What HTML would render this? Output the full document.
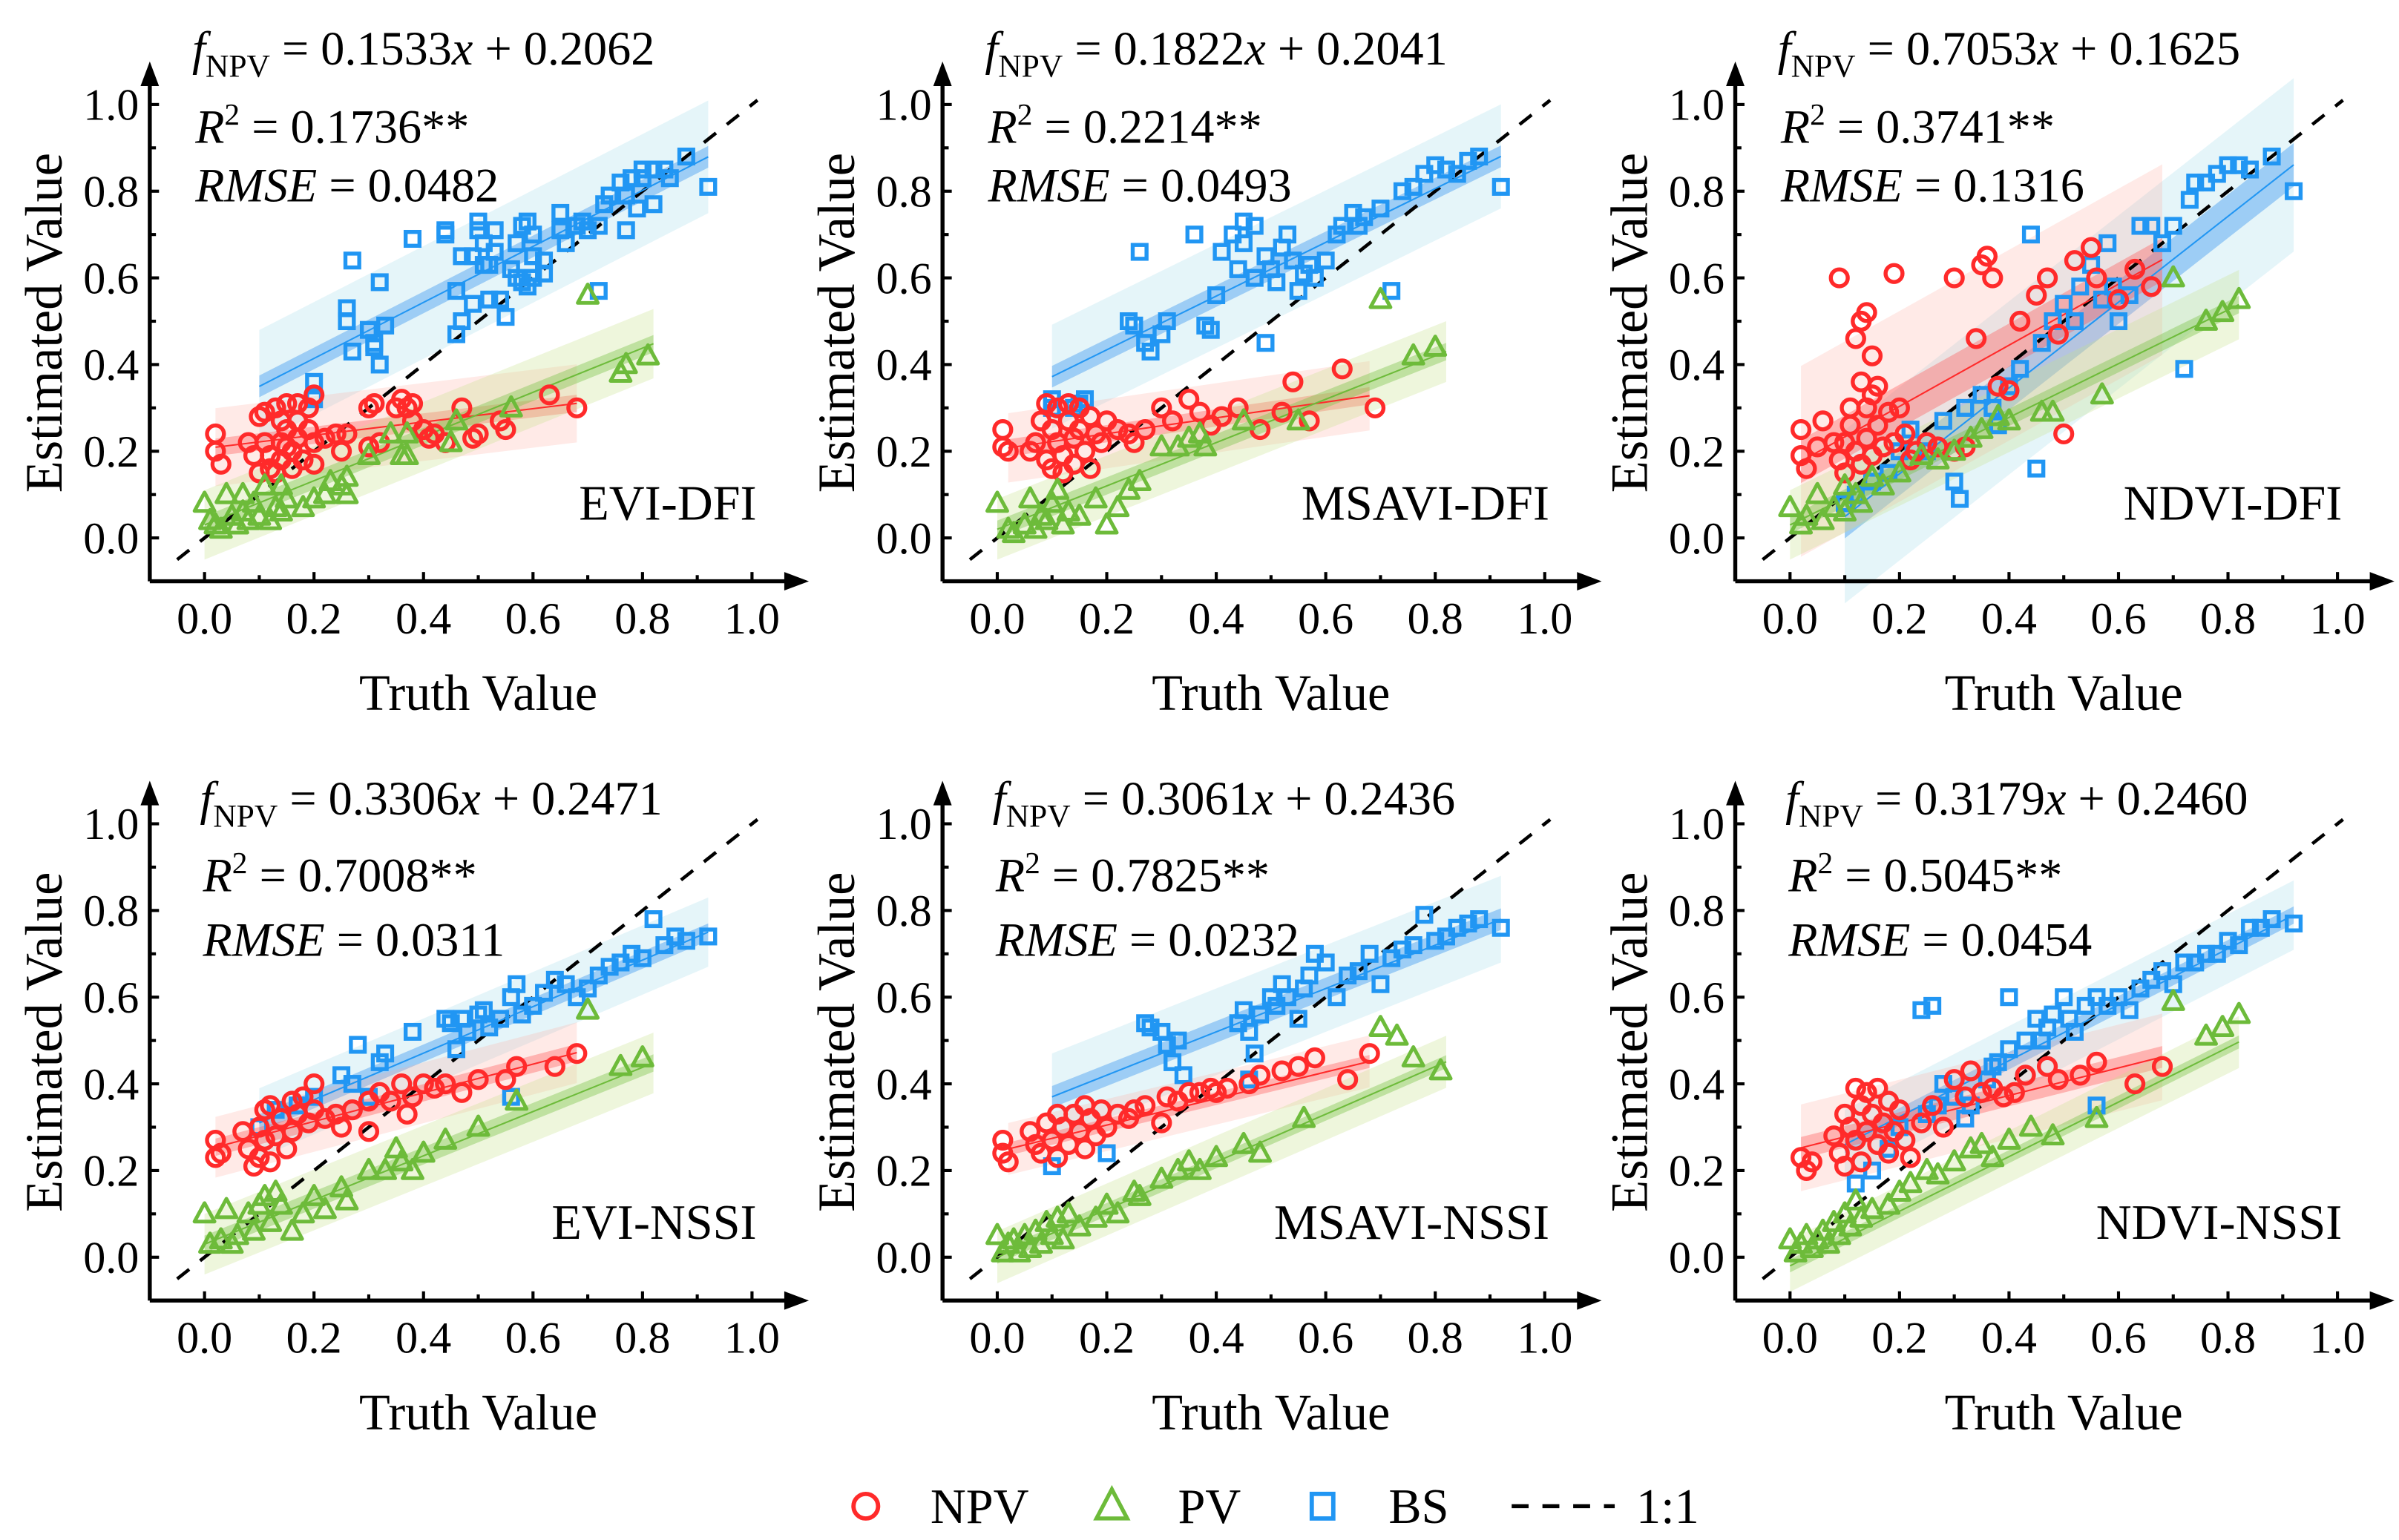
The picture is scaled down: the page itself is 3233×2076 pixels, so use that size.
<!DOCTYPE html>
<html><head><meta charset="utf-8">
<style>
html,body{margin:0;padding:0;background:#fff;overflow:hidden;}
svg{display:block;font-family:"Liberation Serif",serif;}
</style></head>
<body>
<svg id="fig" width="3233" height="2076" viewBox="0 0 1560 1002" preserveAspectRatio="none" xmlns="http://www.w3.org/2000/svg"></svg>
<script>
// ===== Data (value space) =====
const panelNames = ["EVI-DFI","MSAVI-DFI","NDVI-DFI","EVI-NSSI","MSAVI-NSSI","NDVI-NSSI"];
const eqTexts = ["0.1533","0.1822","0.7053","0.3306","0.3061","0.3179"];
const eqIntercepts = ["0.2062","0.2041","0.1625","0.2471","0.2436","0.2460"];
const r2Texts = ["0.1736","0.2214","0.3741","0.7008","0.7825","0.5045"];
const rmseTexts = ["0.0482","0.0493","0.1316","0.0311","0.0232","0.0454"];
const xTicks = [0.0,0.2,0.4,0.6,0.8,1.0];
const yTicks = [0.0,0.2,0.4,0.6,0.8,1.0];

// fits: [slope, intercept, xmin, xmax, ciHalf, piHalf]
const fitNPV = [[0.1533,0.2062,0.02,0.68,0.02,0.09],[0.1822,0.2041,0.02,0.68,0.02,0.08],[0.7053,0.1625,0.02,0.68,0.05,0.22],[0.3306,0.2471,0.02,0.68,0.02,0.07],[0.3061,0.2436,0.02,0.68,0.015,0.06],[0.3179,0.2460,0.02,0.68,0.025,0.1]];
const fitPV = [[0.51,0.03,0.0,0.82,0.02,0.08],[0.5,0.02,0.0,0.82,0.02,0.07],[0.62,0.03,0.0,0.82,0.02,0.08],[0.51,0.03,0.0,0.82,0.02,0.07],[0.55,0.0,0.0,0.82,0.015,0.06],[0.63,-0.02,0.0,0.82,0.015,0.06]];
const fitBS = [[0.646,0.285,0.1,0.92,0.025,0.13],[0.62,0.31,0.1,0.92,0.025,0.12],[0.99,-0.05,0.1,0.92,0.05,0.2],[0.537,0.256,0.1,0.92,0.02,0.08],[0.5,0.32,0.1,0.92,0.025,0.1],[0.646,0.195,0.1,0.92,0.02,0.08]];

const npv1=[[0.02,0.24],[0.02,0.2],[0.03,0.17],[0.08,0.22],[0.09,0.19],[0.1,0.28],[0.1,0.15],[0.11,0.29],[0.11,0.22],[0.12,0.19],[0.12,0.16],[0.13,0.3],[0.13,0.15],[0.14,0.27],[0.14,0.22],[0.14,0.18],[0.15,0.31],[0.15,0.25],[0.15,0.21],[0.16,0.2],[0.16,0.16],[0.17,0.31],[0.17,0.27],[0.17,0.23],[0.18,0.18],[0.19,0.25],[0.19,0.3],[0.2,0.33],[0.2,0.22],[0.2,0.17],[0.22,0.23],[0.24,0.24],[0.25,0.2],[0.26,0.24],[0.3,0.3],[0.3,0.21],[0.31,0.31],[0.32,0.22],[0.35,0.3],[0.36,0.32],[0.37,0.3],[0.38,0.27],[0.38,0.31],[0.4,0.25],[0.41,0.23],[0.42,0.24],[0.44,0.22],[0.47,0.3],[0.49,0.23],[0.5,0.24],[0.54,0.27],[0.55,0.25],[0.63,0.33],[0.68,0.3]];
const pv1=[[0.0,0.08],[0.01,0.04],[0.02,0.03],[0.03,0.02],[0.04,0.1],[0.05,0.05],[0.06,0.03],[0.07,0.06],[0.07,0.1],[0.08,0.04],[0.09,0.08],[0.1,0.05],[0.11,0.12],[0.12,0.04],[0.13,0.07],[0.14,0.12],[0.14,0.06],[0.15,0.09],[0.18,0.07],[0.2,0.09],[0.22,0.1],[0.23,0.13],[0.25,0.12],[0.26,0.1],[0.26,0.14],[0.3,0.19],[0.34,0.24],[0.36,0.19],[0.37,0.19],[0.37,0.24],[0.45,0.22],[0.46,0.27],[0.56,0.3],[0.7,0.56],[0.76,0.38],[0.77,0.4],[0.81,0.42]];
const bs1=[[0.2,0.36],[0.2,0.32],[0.26,0.5],[0.26,0.53],[0.27,0.43],[0.27,0.64],[0.3,0.48],[0.31,0.44],[0.31,0.45],[0.32,0.4],[0.32,0.59],[0.33,0.49],[0.38,0.69],[0.44,0.71],[0.44,0.7],[0.46,0.57],[0.46,0.47],[0.47,0.5],[0.47,0.65],[0.49,0.65],[0.49,0.54],[0.5,0.73],[0.5,0.71],[0.51,0.68],[0.51,0.63],[0.52,0.55],[0.52,0.63],[0.53,0.66],[0.53,0.71],[0.54,0.55],[0.55,0.51],[0.56,0.62],[0.57,0.68],[0.57,0.6],[0.58,0.59],[0.58,0.72],[0.59,0.73],[0.59,0.58],[0.6,0.65],[0.6,0.7],[0.6,0.6],[0.62,0.64],[0.62,0.61],[0.65,0.75],[0.65,0.71],[0.66,0.68],[0.68,0.72],[0.69,0.73],[0.7,0.71],[0.72,0.72],[0.72,0.57],[0.73,0.77],[0.74,0.79],[0.76,0.82],[0.77,0.79],[0.77,0.71],[0.78,0.83],[0.79,0.76],[0.8,0.85],[0.8,0.83],[0.82,0.77],[0.82,0.85],[0.84,0.85],[0.85,0.83],[0.88,0.88],[0.92,0.81]];

const npv2=[[0.01,0.25],[0.01,0.21],[0.02,0.2],[0.06,0.2],[0.07,0.22],[0.08,0.27],[0.09,0.31],[0.09,0.18],[0.1,0.25],[0.1,0.16],[0.11,0.3],[0.11,0.22],[0.12,0.19],[0.12,0.15],[0.13,0.31],[0.13,0.27],[0.14,0.23],[0.14,0.17],[0.15,0.3],[0.15,0.25],[0.16,0.2],[0.17,0.28],[0.17,0.16],[0.18,0.24],[0.19,0.22],[0.2,0.27],[0.22,0.25],[0.24,0.24],[0.25,0.22],[0.27,0.25],[0.3,0.3],[0.32,0.27],[0.35,0.32],[0.37,0.29],[0.39,0.26],[0.41,0.28],[0.44,0.3],[0.48,0.25],[0.52,0.29],[0.54,0.36],[0.57,0.27],[0.63,0.39],[0.69,0.3]];
const pv2=[[0.0,0.08],[0.02,0.02],[0.03,0.01],[0.05,0.03],[0.06,0.09],[0.07,0.02],[0.08,0.05],[0.09,0.04],[0.1,0.08],[0.11,0.11],[0.12,0.03],[0.13,0.06],[0.15,0.05],[0.18,0.09],[0.2,0.03],[0.22,0.07],[0.24,0.11],[0.26,0.13],[0.3,0.21],[0.33,0.21],[0.35,0.23],[0.37,0.24],[0.38,0.21],[0.45,0.27],[0.55,0.27],[0.7,0.55],[0.76,0.42],[0.8,0.44]];
const bs2=[[0.1,0.3],[0.1,0.32],[0.14,0.3],[0.15,0.31],[0.16,0.32],[0.24,0.5],[0.25,0.49],[0.26,0.66],[0.27,0.45],[0.28,0.43],[0.3,0.47],[0.31,0.5],[0.36,0.7],[0.38,0.49],[0.39,0.48],[0.4,0.56],[0.41,0.66],[0.43,0.7],[0.44,0.62],[0.45,0.73],[0.45,0.68],[0.47,0.6],[0.47,0.72],[0.49,0.45],[0.49,0.65],[0.5,0.62],[0.51,0.59],[0.52,0.67],[0.53,0.7],[0.54,0.64],[0.55,0.57],[0.56,0.61],[0.57,0.63],[0.58,0.6],[0.6,0.64],[0.62,0.7],[0.63,0.72],[0.65,0.75],[0.66,0.72],[0.67,0.74],[0.7,0.76],[0.72,0.57],[0.74,0.8],[0.76,0.81],[0.78,0.84],[0.8,0.86],[0.82,0.85],[0.84,0.84],[0.86,0.87],[0.88,0.88],[0.92,0.81]];

const npv3=[[0.02,0.25],[0.02,0.19],[0.03,0.16],[0.05,0.21],[0.06,0.27],[0.08,0.22],[0.09,0.6],[0.09,0.18],[0.1,0.22],[0.1,0.15],[0.11,0.3],[0.11,0.26],[0.12,0.46],[0.12,0.2],[0.13,0.5],[0.13,0.36],[0.13,0.17],[0.14,0.52],[0.14,0.3],[0.14,0.23],[0.15,0.42],[0.15,0.33],[0.15,0.19],[0.16,0.35],[0.16,0.26],[0.17,0.21],[0.18,0.29],[0.19,0.61],[0.19,0.22],[0.2,0.3],[0.21,0.24],[0.22,0.18],[0.23,0.2],[0.25,0.22],[0.27,0.21],[0.3,0.6],[0.3,0.2],[0.32,0.21],[0.34,0.46],[0.35,0.63],[0.36,0.65],[0.37,0.6],[0.38,0.35],[0.4,0.34],[0.42,0.5],[0.45,0.56],[0.47,0.6],[0.49,0.47],[0.5,0.24],[0.52,0.64],[0.55,0.67],[0.56,0.6],[0.6,0.55],[0.63,0.62],[0.66,0.58]];
const pv3=[[0.0,0.07],[0.02,0.03],[0.03,0.05],[0.05,0.1],[0.06,0.04],[0.08,0.07],[0.1,0.06],[0.1,0.12],[0.12,0.1],[0.13,0.08],[0.15,0.14],[0.17,0.12],[0.2,0.15],[0.24,0.19],[0.27,0.18],[0.3,0.2],[0.33,0.23],[0.35,0.25],[0.38,0.28],[0.4,0.27],[0.46,0.29],[0.48,0.29],[0.57,0.33],[0.7,0.6],[0.76,0.5],[0.79,0.52],[0.82,0.55]];
const bs3=[[0.1,0.08],[0.12,0.1],[0.15,0.13],[0.18,0.15],[0.2,0.2],[0.22,0.25],[0.25,0.2],[0.28,0.27],[0.3,0.13],[0.31,0.09],[0.32,0.3],[0.35,0.33],[0.37,0.3],[0.38,0.26],[0.4,0.35],[0.42,0.39],[0.44,0.7],[0.45,0.16],[0.46,0.45],[0.48,0.5],[0.5,0.54],[0.52,0.5],[0.53,0.58],[0.55,0.63],[0.57,0.55],[0.58,0.68],[0.59,0.58],[0.6,0.5],[0.62,0.56],[0.64,0.72],[0.66,0.72],[0.68,0.68],[0.7,0.72],[0.72,0.39],[0.73,0.78],[0.74,0.82],[0.76,0.82],[0.78,0.84],[0.8,0.86],[0.82,0.86],[0.84,0.85],[0.88,0.88],[0.92,0.8]];

const npv4=[[0.02,0.27],[0.02,0.23],[0.03,0.24],[0.07,0.29],[0.08,0.25],[0.09,0.21],[0.1,0.3],[0.1,0.23],[0.11,0.34],[0.11,0.27],[0.12,0.35],[0.12,0.22],[0.13,0.28],[0.14,0.32],[0.15,0.25],[0.16,0.36],[0.16,0.29],[0.17,0.33],[0.18,0.37],[0.19,0.31],[0.2,0.4],[0.2,0.34],[0.22,0.32],[0.24,0.33],[0.25,0.3],[0.27,0.34],[0.3,0.36],[0.3,0.29],[0.32,0.38],[0.34,0.36],[0.36,0.4],[0.37,0.33],[0.38,0.37],[0.4,0.4],[0.42,0.39],[0.44,0.4],[0.47,0.38],[0.5,0.41],[0.55,0.41],[0.57,0.44],[0.64,0.44],[0.68,0.47]];
const pv4=[[0.0,0.1],[0.01,0.03],[0.03,0.04],[0.04,0.11],[0.05,0.03],[0.06,0.05],[0.08,0.1],[0.09,0.06],[0.1,0.12],[0.11,0.14],[0.12,0.08],[0.13,0.15],[0.14,0.12],[0.16,0.06],[0.18,0.1],[0.2,0.14],[0.22,0.11],[0.25,0.16],[0.26,0.13],[0.3,0.2],[0.33,0.2],[0.35,0.25],[0.36,0.22],[0.38,0.2],[0.4,0.24],[0.44,0.27],[0.5,0.3],[0.57,0.36],[0.7,0.57],[0.76,0.44],[0.8,0.46]];
const bs4=[[0.1,0.3],[0.13,0.34],[0.17,0.35],[0.2,0.37],[0.25,0.42],[0.27,0.4],[0.28,0.49],[0.3,0.37],[0.32,0.45],[0.33,0.47],[0.38,0.52],[0.44,0.55],[0.45,0.54],[0.46,0.48],[0.47,0.55],[0.48,0.52],[0.5,0.56],[0.51,0.57],[0.52,0.53],[0.54,0.55],[0.56,0.6],[0.57,0.63],[0.58,0.56],[0.6,0.58],[0.62,0.61],[0.64,0.64],[0.66,0.63],[0.68,0.6],[0.7,0.62],[0.72,0.65],[0.74,0.67],[0.76,0.68],[0.78,0.7],[0.8,0.69],[0.82,0.78],[0.84,0.72],[0.86,0.74],[0.88,0.73],[0.92,0.74],[0.56,0.37]];

const npv5=[[0.01,0.27],[0.01,0.24],[0.02,0.22],[0.06,0.29],[0.07,0.26],[0.08,0.24],[0.09,0.31],[0.1,0.27],[0.11,0.33],[0.11,0.23],[0.12,0.3],[0.13,0.26],[0.14,0.33],[0.15,0.29],[0.16,0.35],[0.16,0.25],[0.17,0.32],[0.18,0.28],[0.19,0.34],[0.2,0.3],[0.22,0.33],[0.24,0.32],[0.25,0.34],[0.27,0.35],[0.3,0.31],[0.31,0.37],[0.33,0.36],[0.35,0.38],[0.37,0.38],[0.39,0.39],[0.4,0.38],[0.42,0.39],[0.46,0.4],[0.48,0.42],[0.52,0.43],[0.55,0.44],[0.58,0.46],[0.64,0.41],[0.68,0.47]];
const pv5=[[0.0,0.05],[0.01,0.01],[0.02,0.03],[0.03,0.04],[0.04,0.01],[0.05,0.05],[0.06,0.02],[0.07,0.06],[0.08,0.03],[0.09,0.08],[0.1,0.05],[0.11,0.09],[0.12,0.04],[0.13,0.1],[0.15,0.07],[0.18,0.09],[0.2,0.12],[0.22,0.1],[0.25,0.15],[0.26,0.14],[0.3,0.18],[0.33,0.2],[0.35,0.22],[0.37,0.2],[0.4,0.23],[0.45,0.26],[0.48,0.24],[0.56,0.32],[0.7,0.53],[0.73,0.51],[0.76,0.46],[0.81,0.43]];
const bs5=[[0.1,0.21],[0.2,0.24],[0.27,0.54],[0.28,0.53],[0.3,0.52],[0.31,0.49],[0.33,0.5],[0.32,0.45],[0.34,0.42],[0.44,0.54],[0.45,0.57],[0.46,0.52],[0.47,0.47],[0.48,0.56],[0.5,0.6],[0.51,0.58],[0.52,0.63],[0.53,0.6],[0.55,0.55],[0.56,0.62],[0.57,0.65],[0.58,0.7],[0.6,0.68],[0.62,0.6],[0.64,0.65],[0.66,0.66],[0.68,0.7],[0.7,0.63],[0.72,0.69],[0.74,0.71],[0.76,0.72],[0.78,0.79],[0.8,0.73],[0.82,0.74],[0.84,0.76],[0.86,0.77],[0.88,0.78],[0.92,0.76],[0.46,0.41]];

const npv6=[[0.02,0.23],[0.03,0.2],[0.04,0.22],[0.08,0.28],[0.09,0.24],[0.1,0.33],[0.1,0.21],[0.11,0.3],[0.12,0.39],[0.12,0.27],[0.13,0.35],[0.13,0.22],[0.14,0.38],[0.14,0.29],[0.15,0.33],[0.16,0.39],[0.16,0.26],[0.17,0.31],[0.18,0.36],[0.18,0.24],[0.19,0.29],[0.2,0.34],[0.21,0.27],[0.22,0.23],[0.24,0.31],[0.26,0.35],[0.28,0.3],[0.3,0.41],[0.32,0.37],[0.33,0.43],[0.35,0.38],[0.37,0.39],[0.39,0.37],[0.41,0.38],[0.43,0.42],[0.47,0.44],[0.49,0.41],[0.53,0.42],[0.56,0.45],[0.63,0.4],[0.68,0.44]];
const pv6=[[0.0,0.04],[0.01,0.01],[0.02,0.03],[0.03,0.05],[0.04,0.02],[0.05,0.04],[0.06,0.06],[0.07,0.03],[0.08,0.08],[0.09,0.05],[0.1,0.1],[0.11,0.07],[0.12,0.13],[0.13,0.09],[0.15,0.11],[0.18,0.12],[0.2,0.15],[0.22,0.17],[0.25,0.2],[0.27,0.19],[0.3,0.22],[0.33,0.25],[0.35,0.26],[0.37,0.23],[0.4,0.27],[0.44,0.3],[0.48,0.28],[0.56,0.32],[0.7,0.59],[0.76,0.51],[0.79,0.53],[0.82,0.56]];
const bs6=[[0.12,0.17],[0.15,0.2],[0.18,0.25],[0.2,0.3],[0.25,0.33],[0.27,0.35],[0.28,0.4],[0.3,0.37],[0.32,0.32],[0.33,0.35],[0.36,0.41],[0.37,0.44],[0.38,0.45],[0.4,0.48],[0.43,0.5],[0.45,0.55],[0.46,0.5],[0.47,0.53],[0.48,0.56],[0.5,0.6],[0.51,0.55],[0.52,0.52],[0.54,0.58],[0.56,0.6],[0.58,0.58],[0.6,0.6],[0.62,0.57],[0.64,0.62],[0.66,0.64],[0.68,0.66],[0.7,0.63],[0.72,0.68],[0.74,0.68],[0.76,0.7],[0.78,0.7],[0.8,0.73],[0.82,0.72],[0.84,0.76],[0.86,0.76],[0.88,0.78],[0.92,0.77],[0.56,0.35],[0.24,0.57],[0.26,0.58],[0.4,0.6]];

const npvSets=[npv1,npv2,npv3,npv4,npv5,npv6];
const pvSets=[pv1,pv2,pv3,pv4,pv5,pv6];
const bsSets=[bs1,bs2,bs3,bs4,bs5,bs6];

// ===== Drawing =====
const NS="http://www.w3.org/2000/svg";
const svg=document.getElementById('fig');
function mk(tag,attrs,parent){const e=document.createElementNS(NS,tag);for(const k in attrs)e.setAttribute(k,attrs[k]);(parent||svg).appendChild(e);return e;}
const RED="#ff2a2a",GREEN="#6dbb3a",BLUE="#2196f3";

for(let p=0;p<6;p++){
  const col=p%3,row=Math.floor(p/3);
  const ox=col*515.5, oy=row*468;
  const g=mk('g',{});
  
  
  const X=v=>ox+133+v*356;
  const Y=v=>oy+350-v*282;

  function band(fit,half,fill){
    const [m,b,x0,x1]=fit;
    const d=`M${X(x0)},${Y(m*x0+b+half)} L${X(x1)},${Y(m*x1+b+half)} L${X(x1)},${Y(m*x1+b-half)} L${X(x0)},${Y(m*x0+b-half)} Z`;
    return mk('path',{d:d,fill:fill,stroke:'none'},g);
  }
  const fits=[[fitBS[p],'rgba(160,220,235,0.28)','rgba(40,140,240,0.38)',BLUE,'bs'],[fitNPV[p],'rgba(255,170,160,0.25)','rgba(255,90,90,0.38)',RED,'npv'],[fitPV[p],'rgba(200,225,140,0.3)','rgba(120,195,70,0.4)',GREEN,'pv']];
  fits.forEach(f=>{
    const pi=band(f[0],f[0][5],f[1]);
    
    
    const ci=band(f[0],f[0][4],f[2]);
    
    
  });

  const one=mk('line',{x1:X(-0.05),y1:Y(-0.05),x2:X(1.01),y2:Y(1.01),stroke:'#000','stroke-width':2.2,'stroke-dasharray':'10,9'},g);
  
  

  fits.forEach(f=>{
    const [m,b,x0,x1]=f[0];
    const l=mk('line',{x1:X(x0),y1:Y(m*x0+b),x2:X(x1),y2:Y(m*x1+b),stroke:f[3],'stroke-width':1},g);
    
    
  });

  bsSets[p].forEach(d=>{
    const r=mk('rect',{x:X(d[0])-4.5,y:Y(d[1])-4.5,width:9,height:9,fill:'none',stroke:BLUE,'stroke-width':2.6},g);
    
    
  });
  npvSets[p].forEach(d=>{
    const c=mk('circle',{cx:X(d[0]),cy:Y(d[1]),r:5.5,fill:'none',stroke:RED,'stroke-width':2.6},g);
    
    
  });
  pvSets[p].forEach(d=>{
    const x=X(d[0]),y=Y(d[1]);
    const t=mk('path',{d:`M${x},${y-7} L${x+6.5},${y+5} L${x-6.5},${y+5} Z`,fill:'none',stroke:GREEN,'stroke-width':2.4,'stroke-linejoin':'round'},g);
    
    
  });

  const yax=mk('path',{d:`M${X(-0.1)},${Y(-0.1)} L${X(-0.1)},${oy+50}`,stroke:'#000','stroke-width':2.6,fill:'none'},g);
  
  
  const ya=mk('path',{d:`M${X(-0.1)},${oy+40} L${X(-0.1)+6},${oy+56} L${X(-0.1)-6},${oy+56} Z`,fill:'#000'},g);
  
  
  const xax=mk('path',{d:`M${X(-0.1)},${Y(-0.1)} L${ox+515},${Y(-0.1)}`,stroke:'#000','stroke-width':2.6,fill:'none'},g);
  
  
  const xa=mk('path',{d:`M${ox+526},${Y(-0.1)} L${ox+510},${Y(-0.1)-6} L${ox+510},${Y(-0.1)+6} Z`,fill:'#000'},g);
  
  

  for(let i=0;i<=10;i++){
    const v=i/10, major=(i%2===0), len=major?6:4;
    mk('line',{x1:X(v),y1:Y(-0.1),x2:X(v),y2:Y(-0.1)-len,stroke:'#000','stroke-width':2},g);
    mk('line',{x1:X(-0.1),y1:Y(v),x2:X(-0.1)+len,y2:Y(v),stroke:'#000','stroke-width':2},g);
  }
  xTicks.forEach(v=>{
    const t=mk('text',{x:X(v),y:Y(-0.1)+34,'text-anchor':'middle','font-size':29},g);
    t.textContent=v.toFixed(1);
    
    
  });
  yTicks.forEach(v=>{
    const t=mk('text',{x:X(-0.1)-7,y:Y(v)+10,'text-anchor':'end','font-size':29},g);
    t.textContent=v.toFixed(1);
    
    
  });
  const xt=mk('text',{x:ox+311,y:oy+462,'text-anchor':'middle','font-size':33},g);
  xt.textContent='Truth Value';
  
  
  const yt=mk('text',{x:0,y:0,'text-anchor':'middle','font-size':34,transform:`translate(${ox+40},${oy+210}) rotate(-90)`},g);
  yt.textContent='Estimated Value';
  
  

  const ex=ox+(row===0?125:130);
  const e1=mk('text',{x:ex,y:oy+(row===0?42:62),'font-size':31},g);
  e1.innerHTML=`<tspan font-style="italic">f</tspan><tspan font-size="21" dy="8">NPV</tspan><tspan dy="-8"> = ${eqTexts[p]}</tspan><tspan font-style="italic">x</tspan><tspan> + ${eqIntercepts[p]}</tspan>`;
  
  
  const e2=mk('text',{x:ex+2,y:oy+(row===0?93:112),'font-size':31},g);
  e2.innerHTML=`<tspan font-style="italic">R</tspan><tspan font-size="20" dy="-12">2</tspan><tspan dy="12"> = ${r2Texts[p]}**</tspan>`;
  
  
  const e3=mk('text',{x:ex+2,y:oy+(row===0?131:154),'font-size':31},g);
  e3.innerHTML=`<tspan font-style="italic">RMSE</tspan><tspan> = ${rmseTexts[p]}</tspan>`;
  
  
  const pl=mk('text',{x:ox+492,y:oy+338,'text-anchor':'end','font-size':32},g);
  pl.textContent=panelNames[p];
  
  
}

const lg=mk('g',{});


const ly=980;
const lc=mk('circle',{cx:563,cy:ly,r:8,fill:'none',stroke:RED,'stroke-width':2.8},lg);


const lt=mk('path',{d:`M723,${ly-11} L733,${ly+8} L713,${ly+8} Z`,fill:'none',stroke:GREEN,'stroke-width':2.6},lg);


const lr=mk('rect',{x:853,y:ly-8,width:14,height:16,fill:'none',stroke:BLUE,'stroke-width':2.8},lg);


const ld=mk('line',{x1:983,y1:ly,x2:1050,y2:ly,stroke:'#000','stroke-width':2.6,'stroke-dasharray':'11,9'},lg);


[["NPV",605,'legend-npv-label'],["PV",766,'legend-pv-label'],["BS",903,'legend-bs-label'],["1:1",1064,'legend-1to1-label']].forEach(a=>{
  const t=mk('text',{x:a[1],y:ly+11,'font-size':32},lg);
  t.textContent=a[0];
  
  
});
</script>
</body></html>
